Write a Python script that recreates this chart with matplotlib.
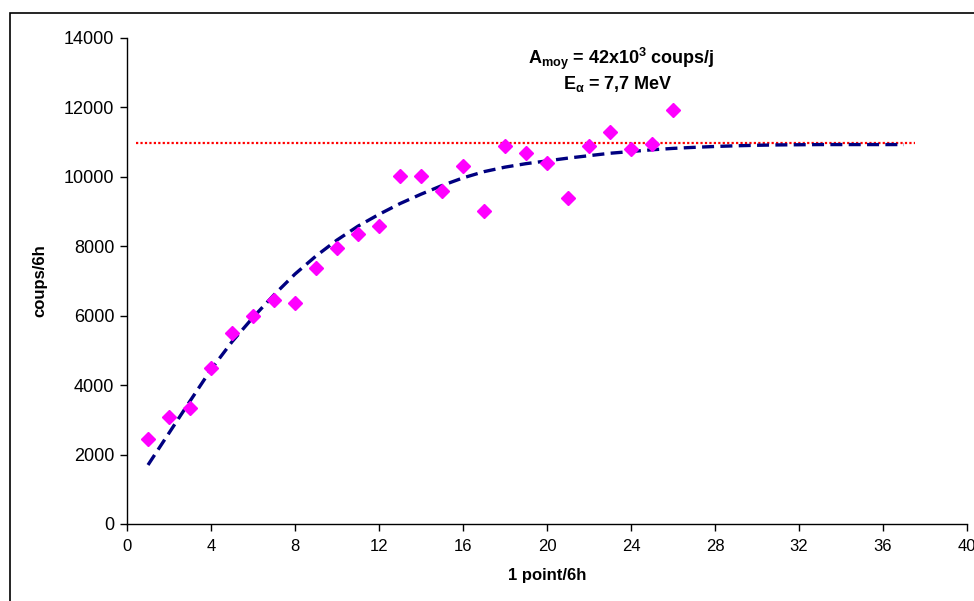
import matplotlib
matplotlib.use("Agg")
import matplotlib.pyplot as plt
from matplotlib.patches import Rectangle

plt.rcParams['font.family'] = ['Liberation Sans', 'DejaVu Sans']
plt.rcParams['mathtext.fontset'] = 'custom'
plt.rcParams['mathtext.rm'] = 'Liberation Sans'
plt.rcParams['mathtext.it'] = 'Liberation Sans:italic'
plt.rcParams['mathtext.bf'] = 'Liberation Sans:bold'

# points mesurés (1 point toutes les 6h)
points = list(range(1, 27))
coups = [2450, 3080, 3340, 4490, 5500, 5990, 6450, 6370, 7375, 7950,
         8350, 8585, 10020, 10020, 9580, 10310, 9010, 10890, 10690, 10410,
         9385, 10880, 11280, 10790, 10940, 11940]

# courbe d'ajustement
fit_x = list(range(1, 38))
fit_y = [1700, 2620, 3540, 4450, 5250, 5950, 6600, 7200, 7720, 8180,
         8580, 8920, 9230, 9500, 9750, 9970, 10150, 10280, 10380, 10460,
         10540, 10610, 10680, 10730, 10780, 10820, 10850, 10875, 10895, 10910,
         10920, 10925, 10930, 10930, 10930, 10930, 10930]

# niveau moyen
moy_x = [0.45, 37.5]
moy_y = [10985, 10985]

fig = plt.figure(figsize=(9.74, 6.01), dpi=100)
ax = fig.add_axes([127 / 974, 77 / 601, 840 / 974, 486 / 601])

ax.plot(moy_x, moy_y, color='red', lw=1.6, linestyle=(0, (1, 1)))
ax.plot(fit_x, fit_y, color='#000080', lw=2.4, dashes=(3.6, 1.9))
ax.plot(points, coups, 'D', color='#FF00FF', ms=7.5, mec='#FF00FF', ls='none')

ax.set_xlim(0, 40)
ax.set_ylim(0, 14000)
ax.set_xticks(range(0, 41, 4))
ax.set_yticks(range(0, 14001, 2000))
ax.spines['top'].set_visible(False)
ax.spines['right'].set_visible(False)
for s in ['left', 'bottom']:
    ax.spines[s].set_linewidth(1.0)
ax.tick_params(direction='out', length=5, width=1, labelsize=12, pad=4)
ax.tick_params(axis='y', labelsize=13)
ax.tick_params(axis='x', pad=6)

ax.set_xlabel('1 point/6h', fontsize=12, fontweight='bold', labelpad=10)
ax.set_ylabel('coups/6h', fontsize=12, fontweight='bold', labelpad=12)

ax.text(0.588, 0.957, r'A$_{\mathbf{moy}}$ = 42x10$^{\mathbf{3}}$ coups/j',
        transform=ax.transAxes, ha='center', va='center', fontsize=13,
        fontweight='bold')
ax.text(0.585, 0.905, r'E$_{\mathbf{\alpha}}$ = 7,7 MeV',
        transform=ax.transAxes, ha='center', va='center', fontsize=13,
        fontweight='bold')

# cadre de la zone du graphique
fig.patches.append(Rectangle((10 / 974, -0.1), 1.2, (601 - 13) / 601 + 0.1,
                             transform=fig.transFigure, fill=False,
                             edgecolor='black', lw=1.2))

fig.savefig('out.png', dpi=100)
